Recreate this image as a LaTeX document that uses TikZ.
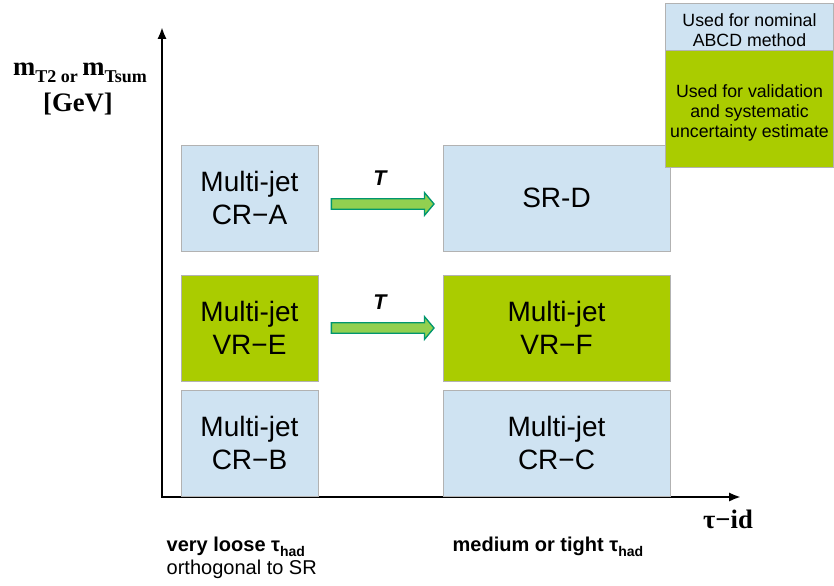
\documentclass[tikz,border=0pt]{standalone}
\usepackage{fontspec}
\setmainfont{Liberation Sans}
\newfontfamily\timesfont{Liberation Serif}
\usetikzlibrary{arrows.meta,shapes.arrows,calc,positioning}

\definecolor{regblue}{RGB}{207,227,242}
\definecolor{reggreen}{RGB}{170,204,0}
\definecolor{arrfill}{RGB}{146,208,80}
\definecolor{arrdraw}{RGB}{0,150,110}

\tikzset{
  region/.style={draw=gray!60, line width=0.6pt, align=center, inner sep=0pt,
    minimum height=79.5pt, font=\fontsize{21}{24.75}\selectfont},
  narrow/.style={region, minimum width=102.75pt},
  wide/.style={region, minimum width=170.25pt},
  transfer/.style={single arrow, draw=arrdraw, fill=arrfill, line width=1pt,
    minimum height=77pt, inner xsep=0pt, inner ysep=3.4pt,
    single arrow head extend=4.6pt, single arrow tip angle=100},
  tlabel/.style={font=\fontsize{16}{18}\selectfont\bfseries\itshape},
  legendbox/.style={draw=gray!60, line width=0.6pt, minimum width=126pt, inner sep=0pt},
  legendtext/.style={align=center, font=\fontsize{13.3}{15}\selectfont},
  axis/.style={line width=1.8pt, {Latex[length=9pt,width=7pt]}-{Latex[length=9pt,width=7pt]}}
}

\newcommand{\had}{\raisebox{-0.45ex}{\fontsize{10.5}{12}\selectfont had}}

\begin{document}
\begin{tikzpicture}[x=0.75pt,y=-0.75pt]
	\useasboundingbox (0,0) rectangle (834,585);

	% axes
	\coordinate (O) at (162,497);
	\coordinate (ytip) at (162,27);
	\coordinate (xtip) at (741,497);
	\draw[axis] (ytip) |- (xtip);

	\node (ylab1) at (80,73) {\timesfont\bfseries\fontsize{20}{22}\selectfont
		m\raisebox{-0.55ex}{\fontsize{13.5}{15}\selectfont T2 or }m\raisebox{-0.55ex}{\fontsize{13.5}{15}\selectfont Tsum}};
	\node (ylab2) at (78,104) {\timesfont\bfseries\fontsize{20}{22}\selectfont [GeV]};
	\node (xlab) at (728,519) {\timesfont\bfseries\fontsize{20}{22}\selectfont τ−id};

	% regions
	\node[narrow, fill=regblue] (A) at (249.5,198) {Multi-jet\\CR−A};
	\node[wide, fill=regblue] (D) at (556.5,198) {SR-D};
	\node[narrow, fill=reggreen] (E) at (249.5,328) {Multi-jet\\VR−E};
	\node[wide, fill=reggreen] (F) at (556.5,328) {Multi-jet\\VR−F};
	\node[narrow, fill=regblue] (B) at (249.5,443) {Multi-jet\\CR−B};
	\node[wide, fill=regblue] (C) at (556.5,443) {Multi-jet\\CR−C};

	% transfer factors
	\node[transfer] (AD) at ($(A.east)!0.5!(D.west)+(0,6)$) {};
	\node[transfer] (EF) at ($(E.east)!0.5!(F.west)$) {};
	\node[tlabel] (tAD) at (380,178) {T};
	\node[tlabel] (tEF) at (380,302) {T};

	% tau id labels
	\node[anchor=west, font=\fontsize{15}{18}\selectfont\bfseries] (loose) at (162,547) {very loose τ\had};
	\node[anchor=west, font=\fontsize{15}{18}\selectfont] (ortho) at (162,569) {orthogonal to SR};
	\node[anchor=west, font=\fontsize{15}{18}\selectfont\bfseries] (tight) at (448,547) {medium or tight τ\had};

	% legend
	\node[legendbox, fill=regblue, minimum height=35.25pt] (lnom) at (749.5,26.5) {};
	\node[legendbox, fill=reggreen, minimum height=87.75pt, below=0pt of lnom] (lval) {};
	\node[legendtext] (tnom) at ($(lnom.center)+(0,4)$) {Used for nominal\\ABCD method};
	\node[legendtext] (tval) at ($(lval.center)+(0,4)$) {Used for validation\\and systematic\\uncertainty estimate};
\end{tikzpicture}
\end{document}
